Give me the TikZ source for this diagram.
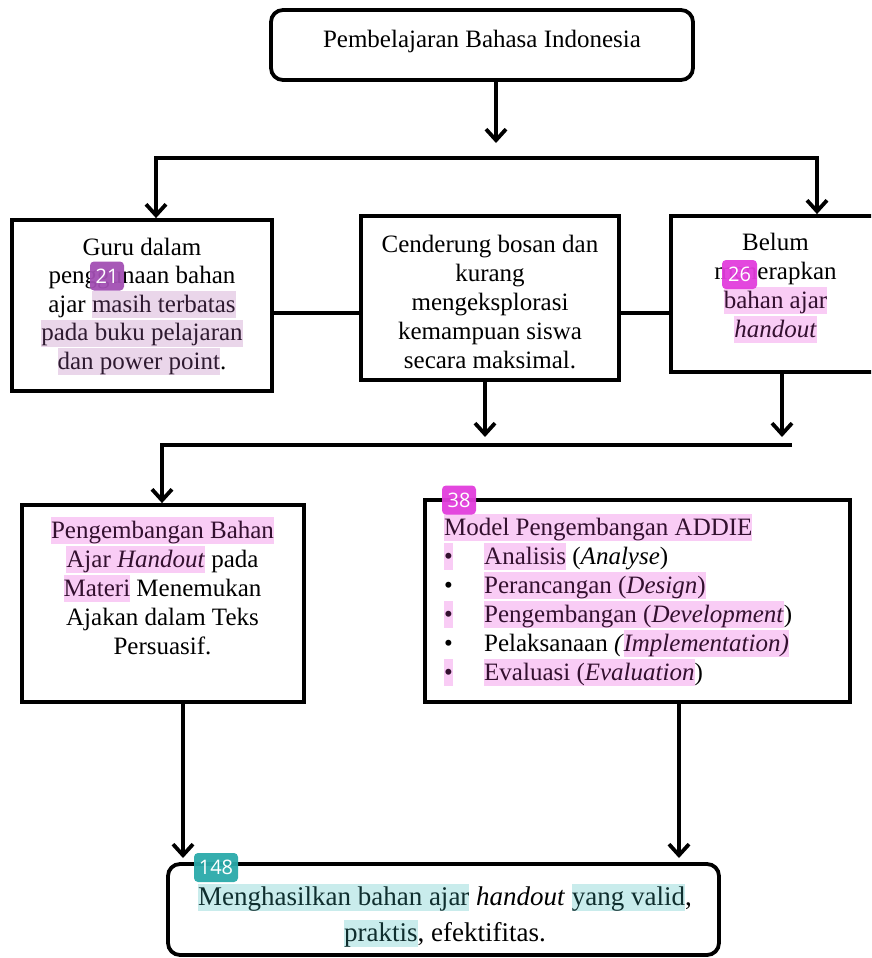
\documentclass[tikz,border=0pt]{standalone}
\usepackage{fontspec}
\setmainfont{Liberation Serif}[ItalicFont={Liberation Serif Italic}, BoldFont={Liberation Serif Bold}, BoldItalicFont={Liberation Serif Bold Italic}]
\newfontfamily\badgefont{Open Sans}
\usetikzlibrary{arrows.meta}
\definecolor{hlpurple}{HTML}{EAD6EA}
\definecolor{hlpink}{HTML}{F9CCF5}
\definecolor{hlcyan}{HTML}{C9ECEC}
\definecolor{fgpurple}{HTML}{2E1A30}
\definecolor{fgpink}{HTML}{33102F}
\definecolor{fgcyan}{HTML}{0F2E2E}
\definecolor{bdgpurple}{HTML}{A24FB3}
\definecolor{bdgpink}{HTML}{E23DDC}
\definecolor{bdgteal}{HTML}{2AAAAA}
\newcommand\sx{\rule[-6pt]{0pt}{27pt}}
\newcommand\hlbox[3]{{\setlength{\fboxsep}{0pt}\colorbox{#1}{\color{#2}\sx #3}}}
\newcommand\hlP[1]{\hlbox{hlpurple}{fgpurple}{#1}}
\newcommand\hlK[1]{\hlbox{hlpink}{fgpink}{#1}}
\newcommand\hlC[1]{\hlbox{hlcyan}{fgcyan}{#1}}
\newcommand\bul[1]{\makebox[40pt][l]{#1}}
\tikzset{
  box/.style={draw, line width=3.8pt, rectangle, inner sep=0pt, line join=miter},
  rbox/.style={box, rounded corners=12pt},
  txt/.style={align=center, inner sep=0pt, font=\fontsize{25}{29}\selectfont},
  conn/.style={line width=3.8pt, line join=miter},
  arr/.style={conn, -{Straight Barb[length=11pt,width=20pt]}},
  arrboth/.style={conn, {Straight Barb[length=11pt,width=20pt]}-{Straight Barb[length=11pt,width=20pt]}},
  badge/.style={rounded corners=4pt, fill=#1, fill opacity=0.95, text opacity=1, text=white,
    font=\badgefont\fontsize{20}{20}\selectfont, minimum height=29pt, inner sep=0pt}
}
\begin{document}
\begin{tikzpicture}[x=1pt,y=-1pt]
\useasboundingbox (0,0) rectangle (871,958);
\clip (0,0) rectangle (871,958);

% boxes
\node[rbox, minimum width=422pt, minimum height=70pt] (top) at (482,45) {};
\node[box, minimum width=260pt, minimum height=171pt] (b1) at (142,305.5) {};
\node[box, minimum width=258pt, minimum height=164pt] (b2) at (490,298) {};
\node[box, minimum width=229pt, minimum height=156pt] (b3) at (785.5,294) {};
\node[box, minimum width=282pt, minimum height=197pt] (b4) at (163,603.5) {};
\node[box, minimum width=425pt, minimum height=202pt] (b5) at (637.5,601) {};
\node[rbox, minimum width=551pt, minimum height=91pt] (b6) at (443.5,909.5) {};

% texts
\node[txt, anchor=north] (t0) at (482,26) {\sx Pembelajaran Bahasa Indonesia};
\node[txt, font=\fontsize{25}{28.5}\selectfont, anchor=north] (t1) at (142,234) {\sx Guru dalam\\
  \sx penggunaan bahan\\
  \sx ajar \hlP{masih terbatas}\\
  \hlP{pada buku pelajaran}\\
  \hlP{dan power point}.};
\node[txt, anchor=north] (t2) at (490,231) {\sx Cenderung bosan dan\\
  \sx kurang\\
  \sx mengeksplorasi\\
  \sx kemampuan siswa\\
  \sx secara maksimal.};
\node[txt, anchor=north] (t3) at (775.5,229) {\sx Belum\\
  \sx menerapkan\\
  \hlK{bahan ajar}\\
  \hlK{\textit{handout}}};
\node[txt, anchor=north] (t4) at (162.5,517) {\hlK{Pengembangan Bahan}\\
  \hlK{Ajar \textit{Handout}} pada\\
  \hlK{Materi} Menemukan\\
  \sx Ajakan dalam Teks\\
  \sx Persuasif.};
\node[txt, align=left, anchor=north west] (t5) at (444,514) {\hlK{Model Pengembangan ADDIE}\\
  \sx\bul{\hlK{•}}\hlK{Analisis} (\textit{Analyse})\\
  \sx\bul{•}\hlK{Perancangan (\textit{Design})}\\
  \sx\bul{\hlK{•}}\hlK{Pengembangan (\textit{Development}})\\
  \sx\bul{•}Pelaksanaan \textit{(}\hlK{\textit{Implementation)}}\\
  \sx\bul{\hlK{•}}\hlK{Evaluasi (\textit{Evaluation}})};
\node[txt, font=\fontsize{27}{36}\selectfont, anchor=north] (t6) at (445,884) {\hlC{Menghasilkan bahan ajar} \textit{handout} \hlC{yang valid},\\
  \hlC{praktis}, efektifitas.};

% connectors
\coordinate (t1c) at (496,143);
\draw[arr] (top.south -| t1c) -- (t1c);
\coordinate (hl) at (156,158);
\coordinate (hr) at (817,158);
\draw[arrboth] (b1.north -| hl) -- (hl) -- (hr) -- (b3.north -| hr);
\coordinate (m1) at (0,313);
\draw[conn] (b1.east |- m1) -- (b2.west |- m1);
\draw[conn] (b2.east |- m1) -- (b3.west |- m1);
\coordinate (l1) at (485,437);
\draw[arr] (b2.south -| l1) -- (l1);
\coordinate (l2) at (782,437);
\draw[arr] (b3.south -| l2) -- (l2);
\coordinate (gl) at (162,445);
\coordinate (gr) at (792,445);
\draw[arr] (gr) -- (gl) -- (b4.north -| gl);
\coordinate (d1) at (183,858);
\draw[arr] (b4.south -| d1) -- (d1);
\coordinate (d2) at (679,858);
\draw[arr] (b5.south -| d2) -- (d2);

% badges
\node[badge=bdgpurple, minimum width=34pt] (g21) at (107,276) {21};
\node[badge=bdgpink, minimum width=35pt] (g26) at (739.5,274.5) {26};
\node[badge=bdgpink, minimum width=34pt] (g38) at (459,500) {38};
\node[badge=bdgteal, minimum width=44pt] (g148) at (216,867.5) {148};
\end{tikzpicture}
\end{document}
